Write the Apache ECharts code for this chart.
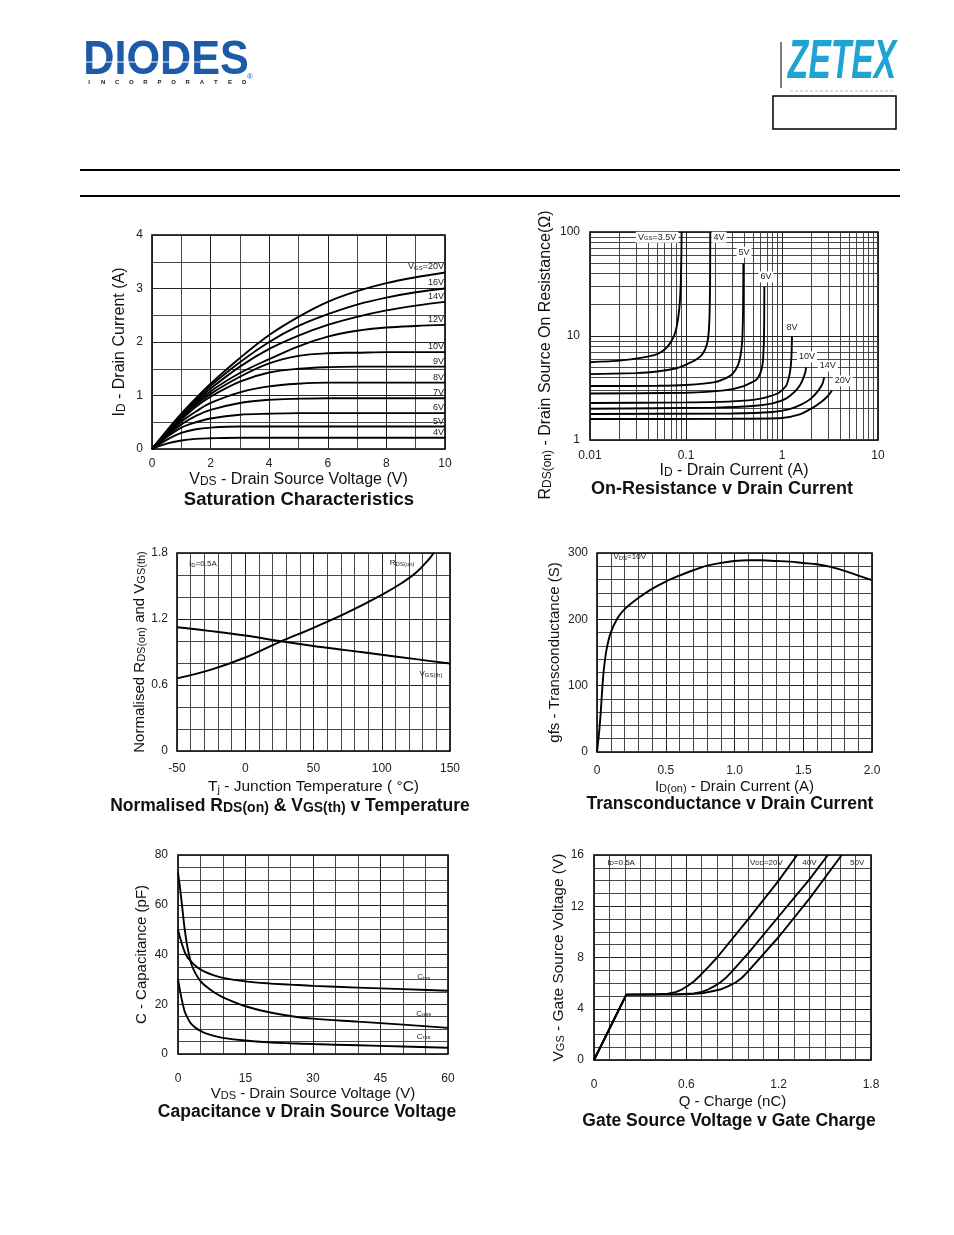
<!DOCTYPE html>
<html><head><meta charset="utf-8">
<script src="https://cdn.jsdelivr.net/npm/echarts@6/dist/echarts.min.js"></script>
<style>html,body{margin:0;padding:0;background:#fff}#c{width:954px;height:1235px}</style>
</head><body><div id="c"></div><script>
const FONT = 'Liberation Sans, Arial, Helvetica, sans-serif';

// ---- Chart 1: Saturation characteristics ----
const satVds = [0, 0.5, 1, 1.5, 2, 3, 4, 5, 6, 7, 8, 9, 10];
const satNames = ['V{s|GS}=20V', '16V', '14V', '12V', '10V', '9V', '8V', '7V', '6V', '5V', '4V'];
const satId20 = [0, 0.34, 0.66, 0.95, 1.22, 1.70, 2.13, 2.47, 2.75, 2.95, 3.10, 3.21, 3.30];
const satId16 = [0, 0.33, 0.64, 0.92, 1.18, 1.62, 2.00, 2.30, 2.52, 2.70, 2.83, 2.93, 3.00];
const satId14 = [0, 0.32, 0.62, 0.89, 1.13, 1.54, 1.87, 2.12, 2.32, 2.47, 2.59, 2.68, 2.75];
const satId12 = [0, 0.31, 0.60, 0.86, 1.08, 1.42, 1.68, 1.92, 2.10, 2.21, 2.27, 2.30, 2.32];
const satId10 = [0, 0.30, 0.58, 0.83, 1.03, 1.35, 1.60, 1.74, 1.79, 1.80, 1.81, 1.81, 1.81];
const satId9  = [0, 0.29, 0.55, 0.79, 0.98, 1.26, 1.43, 1.50, 1.53, 1.54, 1.54, 1.54, 1.54];
const satId8  = [0, 0.27, 0.51, 0.70, 0.86, 1.06, 1.17, 1.22, 1.24, 1.24, 1.24, 1.24, 1.24];
const satId7  = [0, 0.25, 0.46, 0.62, 0.73, 0.86, 0.92, 0.94, 0.95, 0.95, 0.95, 0.95, 0.95];
const satId6  = [0, 0.22, 0.40, 0.50, 0.57, 0.64, 0.66, 0.67, 0.67, 0.67, 0.67, 0.67, 0.67];
const satId5  = [0, 0.17, 0.30, 0.37, 0.40, 0.42, 0.42, 0.42, 0.42, 0.42, 0.42, 0.42, 0.42];
const satId4  = [0, 0.10, 0.16, 0.19, 0.20, 0.21, 0.21, 0.21, 0.21, 0.21, 0.21, 0.21, 0.21];
const satSets = [satId20, satId16, satId14, satId12, satId10, satId9, satId8, satId7, satId6, satId5, satId4];

// ---- Chart 2: On-resistance v drain current (log-log) ----
const ronNames = ['V{s|GS}=3.5V', '4V', '5V', '6V', '8V', '10V', '14V', '20V'];
const ronI35 = [0.01, 0.02, 0.035, 0.05, 0.06, 0.068, 0.075, 0.08, 0.085, 0.088, 0.0895, 0.09];
const ronR35 = [5.6, 5.8, 6.2, 6.7, 7.4, 8.5, 10, 12.3, 18, 30, 60, 100];
const ronI4 = [0.01, 0.03, 0.05, 0.08, 0.1, 0.13, 0.15, 0.165, 0.172, 0.176, 0.178, 0.179];
const ronR4 = [4.3, 4.4, 4.55, 4.9, 5.3, 6.0, 6.8, 8.3, 10.6, 16, 30, 100];
const ronI5 = [0.01, 0.05, 0.1, 0.2, 0.27, 0.31, 0.35, 0.37, 0.385, 0.392, 0.395, 0.396];
const ronR5 = [3.3, 3.32, 3.38, 3.6, 4.0, 4.4, 5.3, 6.5, 9, 15, 30, 50];
const ronI6 = [0.01, 0.1, 0.25, 0.4, 0.54, 0.6, 0.63, 0.645, 0.652, 0.655];
const ronR6 = [2.8, 2.85, 3.0, 3.3, 3.8, 4.5, 5.5, 8, 13, 30];
const ronI8 = [0.01, 0.1, 0.3, 0.6, 0.9, 1.1, 1.18, 1.23, 1.26, 1.27];
const ronR8 = [2.27, 2.3, 2.35, 2.5, 2.8, 3.3, 4.0, 5.0, 7, 10];
const ronI10 = [0.01, 0.2, 0.5, 0.8, 1.1, 1.35, 1.55, 1.68, 1.76, 1.78];
const ronR10 = [2.0, 2.05, 2.12, 2.25, 2.5, 2.9, 3.4, 4.0, 4.6, 5.0];
const ronI14 = [0.01, 0.3, 0.8, 1.2, 1.6, 2.0, 2.4, 2.65, 2.75];
const ronR14 = [1.78, 1.8, 1.86, 1.98, 2.2, 2.5, 3.0, 3.5, 4.0];
const ronI20 = [0.01, 0.3, 1.0, 1.5, 2.1, 2.6, 3.0, 3.3];
const ronR20 = [1.59, 1.6, 1.63, 1.75, 2.05, 2.35, 2.65, 2.98];
const ronIs = [ronI35, ronI4, ronI5, ronI6, ronI8, ronI10, ronI14, ronI20];
const ronRs = [ronR35, ronR4, ronR5, ronR6, ronR8, ronR10, ronR14, ronR20];
const ronLabelAt = [[0.05, 89], [0.221, 89], [0.402, 64], [0.68, 37], [1.27, 12.2], [1.82, 6.3], [3.0, 5.15], [4.3, 3.7]];

// ---- Chart 3: Normalised RDS(on) & VGS(th) v temperature ----
const tRds = [-50, -25, 0, 25, 50, 75, 100, 115, 125, 135, 138];
const nRds = [0.66, 0.74, 0.85, 0.99, 1.12, 1.26, 1.42, 1.53, 1.62, 1.75, 1.8];
const tVgs = [-50, -25, 0, 25, 50, 75, 100, 125, 150];
const nVgs = [1.125, 1.09, 1.05, 1.0, 0.955, 0.915, 0.875, 0.835, 0.795];

// ---- Chart 4: Transconductance v drain current ----
const gfsI = [0, 0.02, 0.04, 0.05, 0.07, 0.1, 0.15, 0.2, 0.3, 0.4, 0.5, 0.6, 0.7, 0.8, 0.9, 1.0, 1.1, 1.2, 1.3, 1.4, 1.5, 1.6, 1.7, 1.8, 1.9, 2.0];
const gfsG = [0, 40, 100, 125, 155, 180, 202, 215, 232, 246, 257, 266, 274, 281, 285, 288, 289, 289, 288, 287, 285, 283, 279, 273, 266, 259];

// ---- Chart 5: Capacitance v drain source voltage ----
const capV = [0, 0.5, 1, 1.5, 2, 2.5, 3, 4, 5, 6, 8, 10, 15, 20, 25, 30, 40, 50, 60];
const capCiss = [50, 46.5, 43.5, 41, 39.2, 38, 37, 35.3, 34, 33, 31.6, 30.6, 29.2, 28.4, 27.9, 27.4, 26.7, 26.1, 25.4];
const capCoss = [73, 66, 58, 50, 44, 39.5, 36, 32, 29.3, 27.5, 24.8, 22.8, 19.2, 16.9, 15.3, 14.2, 13.0, 11.8, 10.5];
const capCrss = [30, 25, 20.5, 17, 15, 13.3, 12, 10.4, 9.3, 8.4, 7.3, 6.5, 5.4, 4.7, 4.3, 4.0, 3.5, 3.0, 2.5];

// ---- Chart 6: Gate source voltage v gate charge ----
const qg20 = [0, 0.21, 0.4, 0.48, 0.53, 0.57, 0.61, 0.65, 0.69, 0.75, 0.8, 1.0, 1.2, 1.32];
const vg20 = [0, 5.1, 5.12, 5.18, 5.3, 5.5, 5.8, 6.15, 6.6, 7.35, 8.0, 10.95, 14.0, 16];
const qg40 = [0, 0.21, 0.55, 0.65, 0.7, 0.74, 0.78, 0.82, 0.86, 0.9, 1.0, 1.2, 1.4, 1.52];
const vg40 = [0, 5.1, 5.13, 5.2, 5.32, 5.5, 5.75, 6.05, 6.45, 6.95, 8.3, 11.2, 14.1, 16];
const qg50 = [0, 0.21, 0.6, 0.7, 0.76, 0.82, 0.87, 0.92, 0.96, 1.0, 1.2, 1.4, 1.61];
const vg50 = [0, 5.1, 5.13, 5.2, 5.35, 5.5, 5.75, 6.05, 6.4, 6.9, 9.6, 12.6, 16];

// ---------------- build ----------------
const pair = (xs, ys) => xs.map((x, i) => [x, ys[i]]);
const nameStyle = (size, extra) => Object.assign({ fontSize: size, fontFamily: FONT, color: '#111',
  rich: { s: { fontSize: Math.round(size * 0.72), fontFamily: FONT, color: '#111', verticalAlign: 'bottom' } } }, extra || {});
const lab = (m) => ({ fontSize: 12, fontFamily: FONT, color: '#222', margin: m });
const gridLine = { show: true, lineStyle: { color: '#222', width: 1 } };
const minorLine = { show: true, lineStyle: { color: '#333', width: 0.9 } };

function vax(gi, o) {
  return Object.assign({
    gridIndex: gi, type: 'value', axisLine: { show: false }, axisTick: { show: false },
    splitLine: gridLine, minorTick: { show: false, splitNumber: o.minor || 5 }, minorSplitLine: minorLine
  }, o);
}

const grids = [
  { left: 152, top: 235, width: 293, height: 214 },
  { left: 590, top: 232, width: 288, height: 208 },
  { left: 177, top: 553, width: 273, height: 198 },
  { left: 597, top: 553, width: 275, height: 199 },
  { left: 178, top: 855, width: 270, height: 199 },
  { left: 594, top: 855, width: 277, height: 205 }
].map(g => Object.assign({ show: true, borderColor: '#000', borderWidth: 1.6, backgroundColor: 'transparent', containLabel: false }, g));

const xAxes = [
  vax(0, { min: 0, max: 10, interval: 2, minor: 2, axisLabel: lab(9), name: 'V{s|DS} - Drain Source Voltage (V)', nameLocation: 'middle', nameGap: 23, nameTextStyle: nameStyle(16) }),
  { gridIndex: 1, type: 'log', logBase: 10, min: 0.01, max: 10, axisLine: { show: false }, axisTick: { show: false }, splitLine: gridLine,
    axisLabel: Object.assign(lab(10), { formatter: v => String(v) }), name: 'I{s|D} - Drain Current (A)', nameLocation: 'middle', nameGap: 22, nameTextStyle: nameStyle(16) },
  vax(2, { min: -50, max: 150, interval: 50, minor: 5, axisLabel: lab(12), name: 'T{s|j} - Junction Temperature ( °C)', nameLocation: 'middle', nameGap: 28, nameTextStyle: nameStyle(15.5) }),
  vax(3, { min: 0, max: 2, interval: 0.5, minor: 5, axisLabel: Object.assign(lab(13), { formatter: v => v.toFixed(v === 0 ? 0 : 1) }), name: 'I{s|D(on)} - Drain Current (A)', nameLocation: 'middle', nameGap: 27, nameTextStyle: nameStyle(15) }),
  vax(4, { min: 0, max: 60, interval: 15, minor: 3, axisLabel: lab(19), name: 'V{s|DS} - Drain Source Voltage (V)', nameLocation: 'middle', nameGap: 32, nameTextStyle: nameStyle(15) }),
  vax(5, { min: 0, max: 1.8, interval: 0.6, minor: 6, axisLabel: Object.assign(lab(19), { formatter: v => (Math.round(v * 10) / 10).toString() }), name: 'Q - Charge (nC)', nameLocation: 'middle', nameGap: 34, nameTextStyle: nameStyle(15) })
];
const yAxes = [
  vax(0, { min: 0, max: 4, interval: 1, minor: 2, axisLabel: lab(9), name: 'I{s|D} - Drain Current (A)', nameLocation: 'middle', nameGap: 24, nameTextStyle: nameStyle(16) }),
  { gridIndex: 1, type: 'log', logBase: 10, min: 1, max: 100, axisLine: { show: false }, axisTick: { show: false }, splitLine: gridLine,
    axisLabel: Object.assign(lab(10), { formatter: v => String(v) }), name: 'R{s|DS(on)} - Drain Source On Resistance(Ω)', nameLocation: 'middle', nameGap: 36, nameTextStyle: nameStyle(16, { padding: [0, 38, 0, 0] }) },
  vax(2, { min: 0, max: 1.8, interval: 0.6, minor: 3, axisLabel: Object.assign(lab(9), { formatter: v => (Math.round(v * 10) / 10).toString() }), name: 'Normalised R{s|DS(on)} and V{s|GS(th)}', nameLocation: 'middle', nameGap: 30, nameTextStyle: nameStyle(15) }),
  vax(3, { min: 0, max: 300, interval: 100, minor: 5, axisLabel: lab(9), name: 'gfs - Transconductance (S)', nameLocation: 'middle', nameGap: 35, nameTextStyle: nameStyle(15) }),
  vax(4, { min: 0, max: 80, interval: 20, minor: 4, axisLabel: lab(10), name: 'C - Capacitance (pF)', nameLocation: 'middle', nameGap: 29, nameTextStyle: nameStyle(15) }),
  vax(5, { min: 0, max: 16, interval: 4, minor: 4, axisLabel: lab(10), name: 'V{s|GS} - Gate Source Voltage (V)', nameLocation: 'middle', nameGap: 27, nameTextStyle: nameStyle(15.5) })
];

const curve = { type: 'line', symbol: 'none', lineStyle: { color: '#000', width: 1.9 }, itemStyle: { color: '#000' }, silent: true, z: 5 };
const smallRich = { s: { fontSize: 6, fontFamily: FONT, color: '#222', verticalAlign: 'bottom' } };
function note(coord, text, size, bg) {
  return { coord: coord, value: 0, symbolSize: 0,
    label: { show: true, position: 'inside', formatter: text, fontSize: size || 8, fontFamily: FONT, color: '#222',
      backgroundColor: bg ? '#fff' : 'transparent', padding: bg ? [1, 2] : 0, rich: smallRich } };
}
function marks(list) { return { symbol: 'circle', symbolSize: 0, silent: true, animation: false, data: list }; }

const series = [];
// chart 1
satSets.forEach((arr, i) => {
  series.push(Object.assign({}, curve, {
    name: 'sat' + i, xAxisIndex: 0, yAxisIndex: 0, smooth: 0.35, data: pair(satVds, arr),
    endLabel: { show: true, formatter: satNames[i], fontSize: 9, fontFamily: FONT, color: '#222', align: 'right', verticalAlign: 'bottom', distance: -1, offset: [0, -1],
      rich: { s: { fontSize: 6, fontFamily: FONT, color: '#222', verticalAlign: 'bottom' } } }
  }));
});
// chart 2 minor grid
function logMinor(e0, e1) { const v = []; for (let e = e0; e < e1; e++) for (let m = 2; m <= 9; m++) v.push(m * Math.pow(10, e)); return v; }
series.push({ type: 'line', xAxisIndex: 1, yAxisIndex: 1, data: [[0.01, 1]], symbol: 'none', silent: true, z: 1,
  markLine: { silent: true, symbol: ['none', 'none'], animation: false, label: { show: false }, lineStyle: { color: '#333', width: 0.9, type: 'solid' },
    data: logMinor(-2, 1).map(x => ({ xAxis: x })).concat(logMinor(0, 2).map(y => ({ yAxis: y }))) } });
ronIs.forEach((xs, i) => {
  series.push(Object.assign({}, curve, {
    name: 'ron' + i, xAxisIndex: 1, yAxisIndex: 1, smooth: 0.2, data: pair(xs, ronRs[i]),
    markPoint: marks([note(ronLabelAt[i], ronNames[i], 9, true)])
  }));
});
// chart 3
series.push(Object.assign({}, curve, { name: 'rds', xAxisIndex: 2, yAxisIndex: 2, smooth: 0.4, data: pair(tRds, nRds),
  markPoint: marks([note([-31, 1.70], 'I{s|D}=0.5A', 8), note([115, 1.71], 'R{s|DS(on)}', 8)]) }));
series.push(Object.assign({}, curve, { name: 'vgs', xAxisIndex: 2, yAxisIndex: 2, smooth: 0.4, data: pair(tVgs, nVgs),
  markPoint: marks([note([136, 0.70], 'V{s|GS(th)}', 8)]) }));
// chart 4
series.push(Object.assign({}, curve, { name: 'gfs', xAxisIndex: 3, yAxisIndex: 3, smooth: 0.35, data: pair(gfsI, gfsG),
  markPoint: marks([note([0.238, 294], 'V{s|DS}=10V', 8)]) }));
// chart 5
series.push(Object.assign({}, curve, { name: 'ciss', xAxisIndex: 4, yAxisIndex: 4, smooth: 0.35, data: pair(capV, capCiss),
  markPoint: marks([note([54.6, 31], 'C{s|iss}', 8)]) }));
series.push(Object.assign({}, curve, { name: 'coss', xAxisIndex: 4, yAxisIndex: 4, smooth: 0.35, data: pair(capV, capCoss),
  markPoint: marks([note([54.6, 16.2], 'C{s|oss}', 8)]) }));
series.push(Object.assign({}, curve, { name: 'crss', xAxisIndex: 4, yAxisIndex: 4, smooth: 0.35, data: pair(capV, capCrss),
  markPoint: marks([note([54.6, 6.9], 'C{s|rss}', 8)]) }));
// chart 6
series.push(Object.assign({}, curve, { name: 'q20', xAxisIndex: 5, yAxisIndex: 5, smooth: false, data: pair(qg20, vg20),
  markPoint: marks([note([0.176, 15.4], 'I{s|D}=0.5A', 8), note([1.12, 15.4], 'V{s|DD}=20V', 8)]) }));
series.push(Object.assign({}, curve, { name: 'q40', xAxisIndex: 5, yAxisIndex: 5, smooth: false, data: pair(qg40, vg40),
  markPoint: marks([note([1.40, 15.4], '40V', 8)]) }));
series.push(Object.assign({}, curve, { name: 'q50', xAxisIndex: 5, yAxisIndex: 5, smooth: false, data: pair(qg50, vg50),
  markPoint: marks([note([1.71, 15.4], '50V', 8)]) }));

// header & titles
const titleRich = { b: { fontSize: 14, fontWeight: 'bold', fontFamily: FONT, color: '#111', verticalAlign: 'bottom' } };
function title(x, y, text, size) {
  return { type: 'text', x: x, y: y, silent: true, style: { text: text, fill: '#111', font: 'bold ' + (size || 17.5) + 'px ' + FONT, align: 'center', verticalAlign: 'middle', rich: titleRich } };
}
const graphics = [
  { type: 'text', x: 166, y: 61, scaleX: 0.9, silent: true, style: { text: 'DIODES', fill: '#1d5aa8', font: 'bold 48px ' + FONT, align: 'center', verticalAlign: 'middle' } },
  { type: 'line', silent: true, shape: { x1: 86, y1: 62, x2: 200, y2: 62 }, style: { stroke: '#fff', lineWidth: 1.2 } },
  { type: 'text', x: 250, y: 77, silent: true, style: { text: '®', fill: '#1d5aa8', font: '8px ' + FONT, align: 'center', verticalAlign: 'middle' } },
  { type: 'text', x: 842, y: 63, scaleX: 0.6, silent: true, style: { text: 'ZETEX', fill: '#1fa3d3', font: 'italic bold 56px ' + FONT, align: 'center', verticalAlign: 'middle' } },
  { type: 'line', silent: true, shape: { x1: 781, y1: 42, x2: 781, y2: 88 }, style: { stroke: '#000', lineWidth: 1 } },
  { type: 'line', silent: true, shape: { x1: 790, y1: 91, x2: 893, y2: 91 }, style: { stroke: '#bbb', lineWidth: 1, lineDash: [3, 2] } },
  { type: 'rect', silent: true, shape: { x: 773, y: 96, width: 123, height: 33 }, style: { fill: 'none', stroke: '#000', lineWidth: 1.5 } },
  { type: 'line', silent: true, shape: { x1: 80, y1: 170, x2: 900, y2: 170 }, style: { stroke: '#000', lineWidth: 2 } },
  { type: 'line', silent: true, shape: { x1: 80, y1: 196, x2: 900, y2: 196 }, style: { stroke: '#000', lineWidth: 2 } },
  title(299, 500, 'Saturation Characteristics', 18.5),
  title(722, 489, 'On-Resistance v Drain Current', 18),
  title(290, 806, 'Normalised R{b|DS(on)} & V{b|GS(th)} v Temperature', 17.5),
  title(730, 804, 'Transconductance v Drain Current', 17.5),
  title(307, 1112, 'Capacitance v Drain Source Voltage', 17.5),
  title(729, 1121, 'Gate Source Voltage v Gate Charge', 17.5)
];
'INCORPORATED'.split('').forEach((ch, i) => {
  graphics.push({ type: 'text', x: 89 + i * 14.1, y: 82, silent: true, style: { text: ch, fill: '#222', font: 'bold 6px ' + FONT, align: 'center', verticalAlign: 'middle' } });
});

const chart = echarts.init(document.getElementById('c'), null, { renderer: 'canvas' });
chart.setOption({
  animation: false,
  backgroundColor: '#fff',
  textStyle: { fontFamily: FONT },
  grid: grids, xAxis: xAxes, yAxis: yAxes, series: series, graphic: graphics
});
</script></body></html>
